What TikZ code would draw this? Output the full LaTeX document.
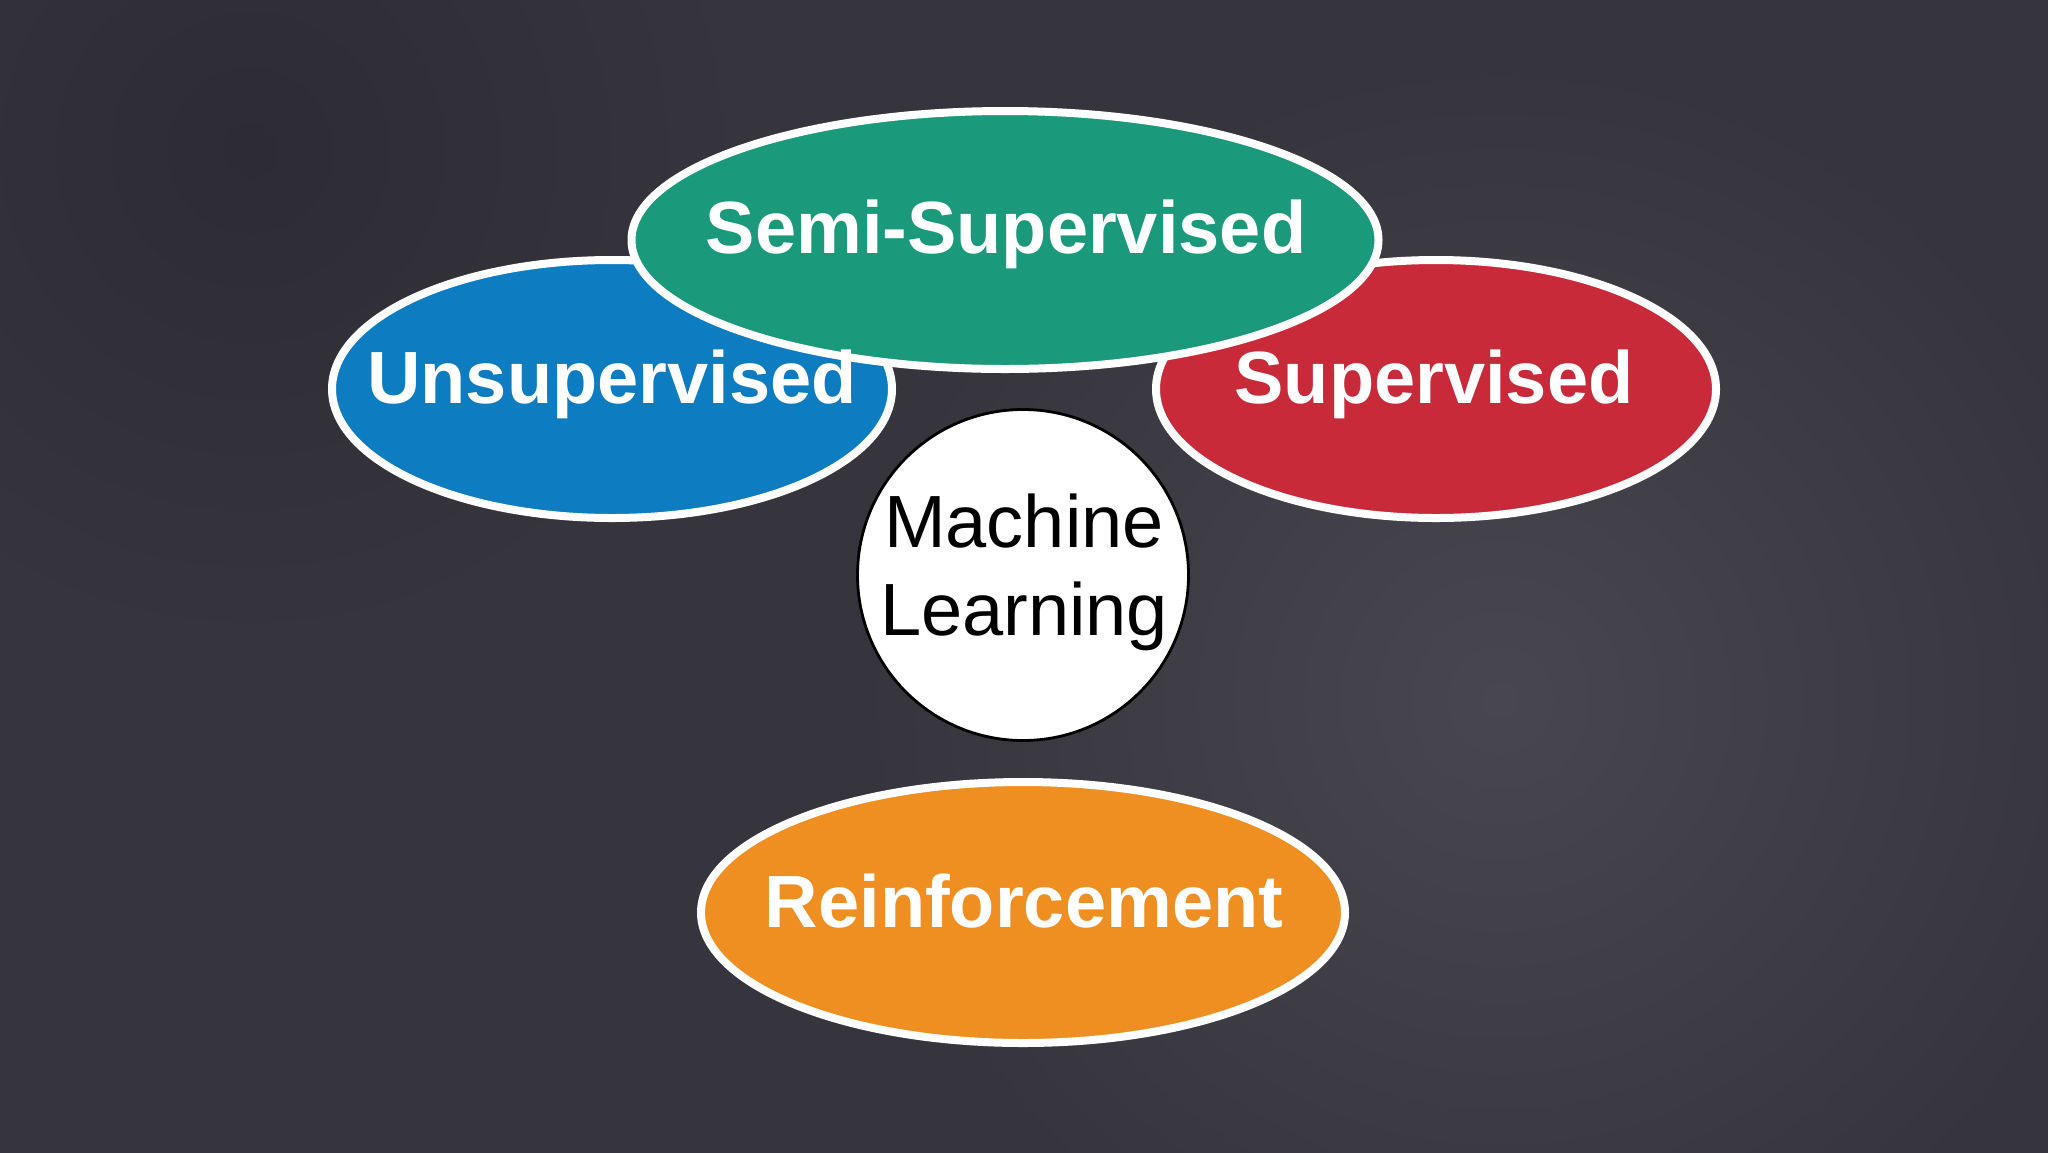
\documentclass[tikz,border=0pt]{standalone}
\usepackage{fontspec}
\setmainfont{Liberation Sans}
\usetikzlibrary{shapes.geometric}
\definecolor{bg}{HTML}{36353D}
\definecolor{bglight}{HTML}{484750}
\definecolor{bgdark}{HTML}{2D2C34}
\definecolor{mlblue}{HTML}{0D7CC0}
\definecolor{mlgreen}{HTML}{1B997B}
\definecolor{mlred}{HTML}{C92A3A}
\definecolor{mlorange}{HTML}{EF8F22}
\begin{document}
\begin{tikzpicture}[x=1pt,y=-1pt,
  blob/.style={ellipse, draw=white, line width=8pt, inner sep=0pt},
  lbl/.style={anchor=base, text=white, inner sep=0pt,
    font=\bfseries\fontsize{74}{88}\selectfont},
  mllbl/.style={anchor=base, text=black, inner sep=0pt,
    font=\fontsize{74}{88}\selectfont}]
\useasboundingbox (0,0) rectangle (2048,1152);
% background
\fill[bg] (-10,-10) rectangle (2058,1162);
\shade[inner color=bgdark, outer color=bg] (250,150) circle (500);
\shade[inner color=bglight, outer color=bg] (1500,700) circle (640);
% ellipses
\node[blob, fill=mlblue, minimum width=560pt, minimum height=258pt] (unsup) at (612,389) {};
\node[blob, fill=mlred, minimum width=560pt, minimum height=258pt] (sup) at (1436,389) {};
\node[blob, fill=mlgreen, minimum width=747pt, minimum height=258pt] (semi) at (1005,240) {};
\node[blob, fill=mlorange, minimum width=644pt, minimum height=261pt] (reinf) at (1023,912.5) {};
\node[circle, draw=black, line width=2.8pt, fill=white, minimum size=331pt, inner sep=0pt] (ml) at (1023,575) {};
% labels
\node[lbl] (tunsup) at (612,403) {Unsupervised};
\node[lbl] (tsup) at (1434,403) {Supervised};
\node[lbl] (tsemi) at (1006,253) {Semi-Supervised};
\node[lbl] (treinf) at (1024,927) {Reinforcement};
\node[mllbl] (tmach) at (1024,547) {Machine};
\node[mllbl] (tlearn) at (1024,635) {Learning};
\end{tikzpicture}
\end{document}
